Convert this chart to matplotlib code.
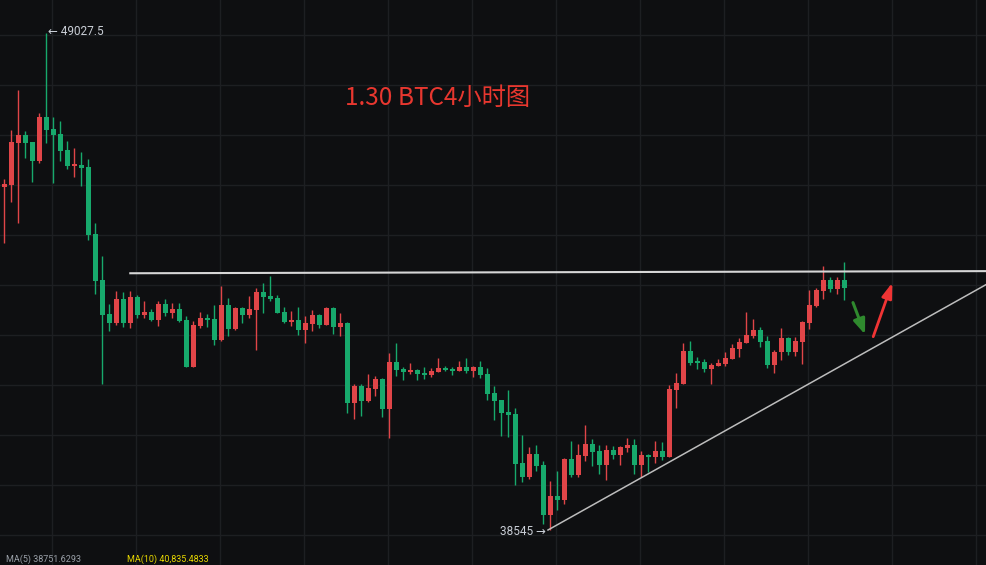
import numpy as np
import matplotlib
matplotlib.use("Agg")
import matplotlib.pyplot as plt

# BTC 4h candles (red = up, green = down)
opens = [45786, 45821, 46713, 46876, 46728, 46327, 47255, 47002, 46897, 46560,
         46228, 46243, 46201, 44788, 43818, 43101, 42917, 43417, 42917, 43459,
         43086, 43143, 42981, 43312, 43128, 43206, 42974, 41989, 42854, 43016,
         42995, 42559, 43290, 42791, 43227, 43086, 43191, 43565, 43480, 43438,
         43143, 42932, 42974, 42770, 42896, 43080, 42869, 43227, 42833, 42911,
         41224, 41582, 41266, 41519, 41730, 41097, 42088, 41941, 41878, 41920,
         41856, 41814, 41878, 41968, 41941, 41899, 41983, 41899, 41983, 41835,
         41435, 41287, 41034, 40992, 39958, 39669, 40148, 39916, 38868, 39269,
         39178, 40043, 39705, 40106, 40359, 40211, 39916, 40232, 40127, 40275,
         40338, 39916, 40127, 40085, 40211, 40085, 41498, 41624, 42320, 42110,
         42088, 41947, 42004, 42046, 42158, 42369, 42496, 42643, 42763, 42531,
         42025, 42289, 42595, 42299, 42510, 42911, 43276, 43592, 43818, 43628,
         43818]
closes = [45842, 46728, 46876, 46713, 46334, 47255, 46988, 46882, 46545, 46228,
          46264, 46186, 44767, 43797, 43086, 42917, 43417, 42917, 43459, 43086,
          43143, 42981, 43312, 43128, 43206, 42959, 41989, 42869, 43016, 42981,
          42559, 43290, 42791, 43227, 43086, 43206, 43565, 43466, 43423, 43128,
          42938, 42974, 42770, 42911, 43080, 42869, 43227, 42833, 42911, 41224,
          41582, 41266, 41540, 41730, 41097, 42088, 41920, 41878, 41920, 41835,
          41814, 41899, 41962, 41920, 41899, 41983, 41899, 41983, 41814, 41414,
          41266, 41013, 40971, 39944, 39669, 40148, 39901, 38868, 39269, 39178,
          40043, 39705, 40127, 40359, 40190, 39916, 40232, 40127, 40296, 40338,
          39916, 40127, 40085, 40211, 40085, 41519, 41646, 42320, 42067, 42067,
          41947, 42025, 42067, 42173, 42384, 42510, 42658, 42763, 42510, 42025,
          42299, 42595, 42299, 42531, 42932, 43290, 43607, 43818, 43628, 43818,
          43655]
highs = [45948, 46975, 47831, 46960, 46728, 47340, 49027.5, 47249, 47165, 46749,
         46602, 46517, 46363, 45020, 44318, 43305, 43586, 43565, 43586, 43501,
         43375, 43200, 43375, 43411, 43326, 43333, 43059, 42953, 43137, 43094,
         43284, 43691, 43432, 43248, 43248, 43480, 43649, 43765, 43902, 43508,
         43248, 43164, 43248, 43065, 43185, 43101, 43248, 43248, 43128, 42932,
         41624, 41624, 41842, 41793, 41751, 42285, 42489, 41983, 42067, 41941,
         41983, 41962, 42166, 42004, 41983, 42110, 42166, 42004, 42110, 41962,
         41589, 41287, 41498, 41112, 40543, 40289, 40344, 40007, 39585, 39779,
         40060, 40422, 40359, 40760, 40471, 40338, 40338, 40317, 40310, 40486,
         40465, 40211, 40148, 40422, 40391, 41603, 41856, 42489, 42531, 42194,
         42158, 42067, 42158, 42306, 42474, 42595, 43143, 42995, 42816, 42637,
         42342, 42795, 42616, 42616, 42945, 43607, 43649, 44113, 43875, 43875,
         44197]
lows = [44604, 45469, 45026, 46391, 45885, 46292, 46713, 45870, 46334, 46165,
        45984, 45800, 44668, 43529, 41624, 42748, 42869, 42820, 42812, 43023,
        43016, 42959, 42854, 43065, 43023, 42938, 41980, 41980, 42806, 42833,
        42453, 42538, 42643, 42770, 42905, 43023, 42342, 43132, 43381, 43120,
        42911, 42854, 42652, 42496, 42742, 42812, 42860, 42679, 42643, 41019,
        40886, 40950, 41255, 41371, 40928, 40486, 41793, 41709, 41835, 41709,
        41736, 41778, 41870, 41892, 41808, 41890, 41856, 41778, 41757, 41287,
        40865, 40534, 40507, 39501, 39558, 39627, 39783, 38665, 38545, 38967,
        39094, 39663, 39663, 39990, 39895, 39726, 39600, 40043, 39916, 40190,
        39726, 39663, 39758, 39958, 40032, 40075, 41118, 41615, 42025, 41941,
        41867, 41618, 41994, 42004, 42150, 42194, 42490, 42595, 42415, 41968,
        41863, 42141, 42236, 42215, 42046, 42791, 43255, 43423, 43558, 43516,
        43402]

# drawn lines / labels (candle index, price)
resistance = [(18, 43960), (140.4, 44005)]
trendline = [(77.67, 38545), (140.4, 43733)]
arrow_down = [(121.1, 43396), (123.1, 42616)]
arrow_up = [(124.0, 42567), (127.0, 43818)]
high_label = "← 49027.5"
low_label = "38545 →"
title = "1.30 BTC4小时图"
ma5_label = "MA(5) 38751.6293"
ma10_label = "MA(10) 40,835.4833"

BG = "#0e0f11"
GRID = "#1d1f22"
UP = "#e04548"
DOWN = "#17a96c"

plt.rcParams['font.family'] = ['Noto Sans CJK SC', 'DejaVu Sans']

fig = plt.figure(figsize=(9.87, 5.65), dpi=100, facecolor=BG)
ax = fig.add_axes([0, 0, 1, 1], facecolor=BG)
ax.set_xlim(-0.614, 140.386)
ax.set_ylim(37807, 49723)
for s in ax.spines.values():
    s.set_visible(False)
ax.set_xticks([])
ax.set_yticks([])

# grid
for p in np.arange(38440, 49500, 1054.5):
    ax.axhline(p, color=GRID, lw=1, zorder=0)
for x in np.arange(6.8, 141, 12):
    ax.axvline(x, color=GRID, lw=1, zorder=0)

o = np.array(opens, float)
c = np.array(closes, float)
h = np.array(highs, float)
l = np.array(lows, float)
idx = np.arange(len(o))
cols = np.where(c >= o, UP, DOWN)

ax.vlines(idx, l, h, colors=cols, lw=1, zorder=2)
body_lo = np.minimum(o, c)
body_h = np.maximum(np.abs(c - o), 28)
ax.bar(idx, body_h, bottom=body_lo, width=0.72, color=cols, linewidth=0, zorder=3)

# lines
ax.plot(*zip(*resistance), color="#d6d6d6", lw=1.5, zorder=4)
ax.plot(*zip(*trendline), color="#bdbdbd", lw=1.1, zorder=4)

ax.annotate("", xy=arrow_down[1], xytext=arrow_down[0],
            arrowprops=dict(arrowstyle="-|>,head_length=0.9,head_width=0.35",
                            color="#2f8a2e", lw=2.2), zorder=5)
ax.annotate("", xy=arrow_up[1], xytext=arrow_up[0],
            arrowprops=dict(arrowstyle="-|>,head_length=0.9,head_width=0.3",
                            color="#f03434", lw=2.0), zorder=5)

# labels
lab_font = ['Roboto', 'DejaVu Sans']
ax.text(6.3, 49060, high_label, color="#c9ced6", fontsize=8.5,
        va="center", ha="left", family=lab_font)
ax.text(77.4, 38520, low_label, color="#c9ced6", fontsize=8.5,
        va="center", ha="right", family=lab_font)
ax.text(48.7, 47660, title, color="#e8372f", fontsize=17.5,
        va="center", ha="left")

# indicator line at the bottom edge
ax.text(0.2, 37830, ma5_label, color="#9aa0a8", fontsize=6.5,
        va="bottom", ha="left", family=lab_font)
ax.text(17.5, 37830, ma10_label, color="#e8d800", fontsize=6.5,
        va="bottom", ha="left", family=lab_font)

fig.savefig("out.png", dpi=100, facecolor=BG)
